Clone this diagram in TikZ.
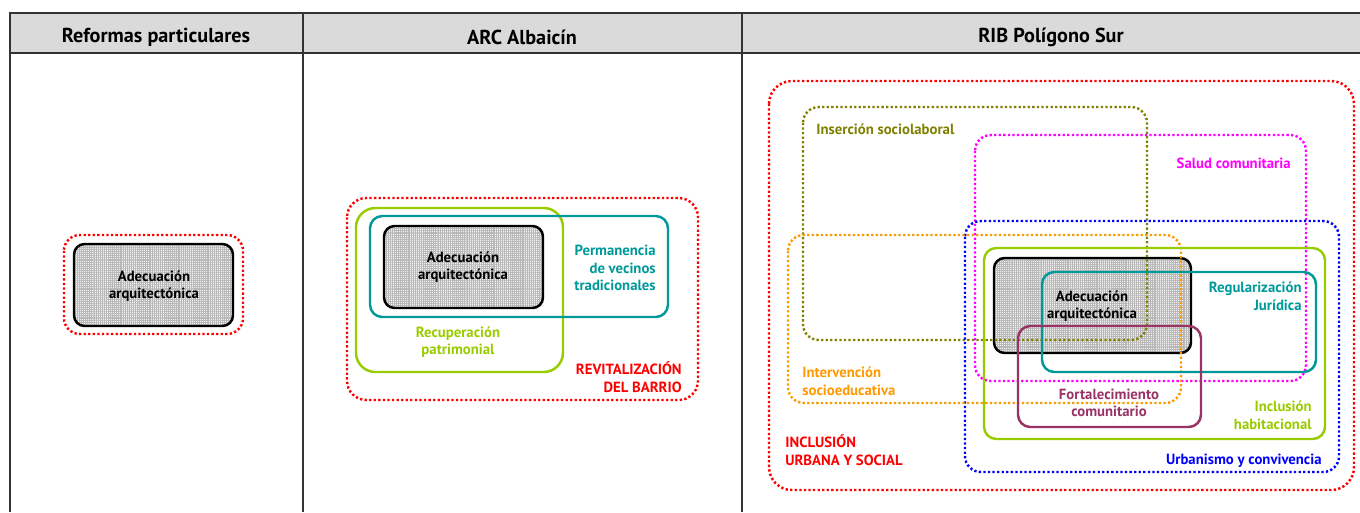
\documentclass[tikz,border=0pt]{standalone}
\usepackage{fontspec}
\setmainfont{PT Sans}
\usetikzlibrary{patterns.meta}
\definecolor{cabecera}{HTML}{DADADA}
\definecolor{rojo}{HTML}{FF0000}
\definecolor{oliva}{HTML}{808000}
\definecolor{magenta}{HTML}{FF00FF}
\definecolor{azul}{HTML}{0000FF}
\definecolor{naranja}{HTML}{FF9900}
\definecolor{lima}{HTML}{99CC00}
\definecolor{turquesa}{HTML}{009999}
\definecolor{granate}{HTML}{993366}

\begin{document}
\begin{tikzpicture}[x=0.02cm, y=-0.02cm,
    tabla/.style={draw=black!80, line width=0.8pt},
    titulo/.style={font=\bfseries\fontsize{11.5}{13}\selectfont, inner sep=0pt},
    nucleo/.style={draw=black, line width=1.4pt, rounded corners=6pt,
      preaction={fill=black!5},
      pattern={Hatch[angle=0, distance=1.1pt, line width=0.3pt]},
      pattern color=black!28},
    marco/.style={line width=1.4pt, rounded corners=7pt},
    punteado/.style={line width=1.4pt, dash pattern=on 1.3pt off 1.3pt,
      rounded corners=9pt},
    etiqueta/.style={font=\bfseries\fontsize{8.4}{10}\selectfont, inner sep=0pt},
  ]
  \useasboundingbox (0,0) rectangle (1360,512);

  % Table with the three headers
  \fill[cabecera] (10,13) rectangle (1360,53);
  \draw[tabla] (1360,13) -- (10,13) -- (10,512);
  \draw[tabla] (10,53) -- (1360,53);
  \draw[tabla] (303,13) -- (303,512);
  \draw[tabla] (742,13) -- (742,512);
  \node[titulo] (h1) at (156,37) {Reformas particulares};
  \node[titulo] (h2) at (522,37) {ARC Albaicín};
  \node[titulo] (h3) at (1051,37) {RIB Polígono Sur};

  % Reformas particulares
  \draw[punteado, draw=rojo] (64,235) rectangle (243,334);
  \draw[nucleo] (74,244) rectangle (233,326);
  \node[etiqueta, align=center] (adec1) at (154,286) {Adecuación\\arquitectónica};

  % ARC Albaicin
  \draw[punteado, draw=rojo, rounded corners=11pt] (347,198) rectangle (698,400);
  \draw[nucleo] (384,226) rectangle (543,308);
  \draw[marco, draw=lima, rounded corners=11pt] (356,208) rectangle (563,372);
  \draw[marco, draw=turquesa] (370,216) rectangle (668,317);
  \node[etiqueta, align=center] (adec2) at (463,267) {Adecuación\\arquitectónica};
  \node[etiqueta, align=right, anchor=east, text=turquesa] (perm) at (656,268)
    {Permanencia\\de vecinos\\tradicionales};
  \node[etiqueta, align=center, text=lima] (recu) at (458,342)
    {Recuperación\\patrimonial};
  \node[etiqueta, align=right, anchor=east, text=rojo] (revi) at (682,377)
    {REVITALIZACIÓN\\DEL BARRIO};

  % RIB Poligono Sur
  \draw[nucleo] (994,258) rectangle (1191,353);
  \draw[punteado, draw=rojo, rounded corners=13pt] (769,81) rectangle (1354,490);
  \draw[punteado, draw=oliva] (803,107) rectangle (1147,340);
  \draw[punteado, draw=magenta] (975,135) rectangle (1306,381);
  \draw[punteado, draw=azul] (965,221) rectangle (1339,472);
  \draw[punteado, draw=naranja] (788,235) rectangle (1181,403);
  \draw[marco, draw=lima] (984,248) rectangle (1325,439);
  \draw[marco, draw=turquesa] (1042,272) rectangle (1316,372);
  \draw[marco, draw=granate] (1018,326) rectangle (1201,427);
  \node[etiqueta, align=center] (adec3) at (1092,306) {Adecuación\\arquitectónica};
  \node[etiqueta, anchor=west, text=oliva] (inse) at (816,129) {Inserción sociolaboral};
  \node[etiqueta, anchor=east, text=magenta] (salu) at (1291,163) {Salud comunitaria};
  \node[etiqueta, align=right, anchor=east, text=turquesa] (regu) at (1302,296)
    {Regularización\\Jurídica};
  \node[etiqueta, align=left, anchor=west, text=naranja] (inte) at (802,381)
    {Intervención\\socioeducativa};
  \node[etiqueta, align=center, text=granate] (fort) at (1109,403)
    {Fortalecimiento\\comunitario};
  \node[etiqueta, align=right, anchor=east, text=lima] (habi) at (1312,415)
    {Inclusión\\habitacional};
  \node[etiqueta, anchor=east, text=azul] (urba) at (1322,461) {Urbanismo y convivencia};
  \node[etiqueta, align=left, anchor=west, text=rojo] (incl) at (785,450)
    {INCLUSIÓN\\URBANA Y SOCIAL};
\end{tikzpicture}
\end{document}
